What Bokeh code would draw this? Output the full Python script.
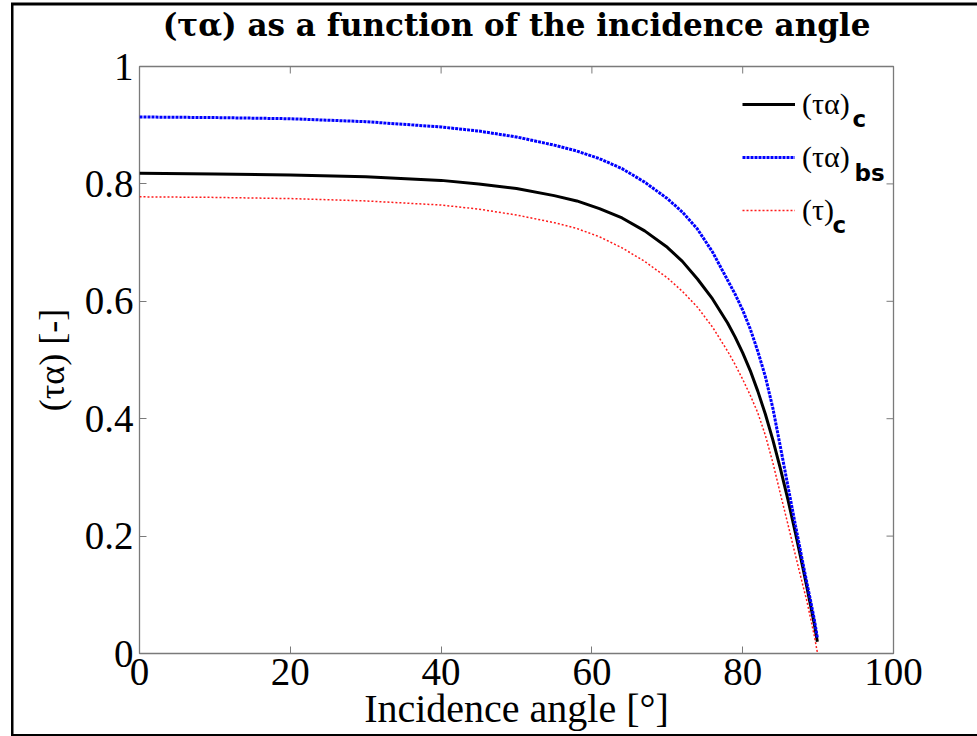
import math
from bokeh.plotting import figure
from bokeh.models import Range1d, FixedTicker, Legend, LegendItem, Label
from bokeh.embed import file_html
from bokeh.resources import INLINE

# Incidence angle [deg]
angle = [0, 10, 20, 30, 40, 45, 50, 55, 58, 61, 64, 67, 70, 72, 74, 76, 78, 79,
         80, 81, 82, 83, 84, 85, 86, 87, 88, 88.5, 89, 89.5, 89.9]
# (tau alpha) of the collector
ta_c = [0.818, 0.817, 0.815, 0.812, 0.806, 0.800, 0.792, 0.780, 0.771, 0.758,
        0.742, 0.720, 0.692, 0.668, 0.638, 0.604, 0.563, 0.539, 0.512, 0.482,
        0.447, 0.408, 0.364, 0.315, 0.262, 0.205, 0.145, 0.114, 0.082, 0.050,
        0.020]
# (tau alpha) of the black surface
ta_bs = [0.914, 0.913, 0.911, 0.906, 0.897, 0.890, 0.880, 0.866, 0.856, 0.843,
         0.826, 0.803, 0.775, 0.752, 0.723, 0.684, 0.636, 0.612, 0.585, 0.553,
         0.515, 0.472, 0.418, 0.352, 0.285, 0.218, 0.153, 0.121, 0.090, 0.058,
         0.027]
# tau of the cover
tau_c = [0.778, 0.777, 0.775, 0.771, 0.764, 0.757, 0.747, 0.734, 0.724, 0.710,
         0.691, 0.668, 0.640, 0.617, 0.590, 0.556, 0.515, 0.492, 0.467, 0.440,
         0.410, 0.372, 0.325, 0.272, 0.220, 0.167, 0.115, 0.090, 0.060, 0.030,
         0.002]

x_ticks = [0, 20, 40, 60, 80, 100]
y_ticks = [0, 0.2, 0.4, 0.6, 0.8, 1]
y_tick_labels = {0: "0", 0.2: "0.2", 0.4: "0.4", 0.6: "0.6", 0.8: "0.8", 1: "1"}

GREY = "#7a7a7a"
SERIF = "Liberation Serif"

p = figure(width=977, height=736, output_backend="svg", toolbar_location=None,
           x_range=Range1d(x_ticks[0], x_ticks[-1]),
           y_range=Range1d(y_ticks[0], y_ticks[-1]),
           min_border_left=139, min_border_right=84,
           min_border_top=66, min_border_bottom=83)
p.background_fill_color = "white"
p.border_fill_color = None
p.outline_line_color = GREY
p.outline_line_width = 1.3
p.xgrid.visible = False
p.ygrid.visible = False

# figure frame: left, top and bottom rules drawn behind the transparent border
p.styles = {
    "background-color": "white",
    "box-shadow": ("inset 11px 0 0 0 white, inset 0 2.5px 0 0 white, "
                   "inset 13.5px 0 0 0 black, inset 0 5.5px 0 0 black, "
                   "inset 0 -2px 0 0 black"),
}

p.title.text = "(τα) as a function of the incidence angle"
p.title.align = "center"
p.title.vertical_align = "top"
p.title.text_font = "DejaVu Serif"
p.title.text_font_style = "bold"
p.title.text_font_size = "31px"
p.title.text_color = "black"
p.title.standoff = 0
p.title.padding = dict(left=0, right=0, top=5, bottom=22)

for ax in (p.xaxis[0], p.yaxis[0]):
    ax.axis_line_color = None
    ax.major_tick_in = 7
    ax.major_tick_out = 0
    ax.minor_tick_line_color = None
    ax.major_tick_line_color = GREY
    ax.major_label_text_font = SERIF
    ax.major_label_text_font_size = "39px"
    ax.major_label_text_color = "black"
    ax.axis_label_text_font = SERIF
    ax.axis_label_text_font_style = "normal"
    ax.axis_label_text_color = "black"

p.xaxis.ticker = FixedTicker(ticks=x_ticks)
p.yaxis.ticker = FixedTicker(ticks=y_ticks)
p.yaxis.major_label_overrides = y_tick_labels
p.xaxis.major_label_standoff = 5
p.yaxis.major_label_standoff = 6
p.xaxis.axis_label = "Incidence angle [°]"
p.xaxis.axis_label_text_font_size = "40px"
p.xaxis.axis_label_standoff = -2
p.yaxis.axis_label = "(τα) [-]"
p.yaxis.axis_label_text_font_size = "36px"
p.yaxis.axis_label_standoff = 10

# inward tick marks on the top and right sides of the box
p.scatter(x_ticks, [y_ticks[-1]] * len(x_ticks), marker="dash", size=14,
          angle=math.pi / 2, line_color=GREY, line_width=1)
p.scatter([x_ticks[-1]] * len(y_ticks), y_ticks, marker="dash", size=14,
          angle=0, line_color=GREY, line_width=1)

r_c = p.line(angle, ta_c, line_color="black", line_width=3)
r_bs = p.line(angle, ta_bs, line_color="#0000ff", line_width=3, line_dash="3 1")
r_tc = p.line(angle, tau_c, line_color="#ff1a1a", line_width=1.5, line_dash="2 2")

legend = Legend(items=[LegendItem(label="(τα)", renderers=[r_c]),
                       LegendItem(label="(τα)", renderers=[r_bs]),
                       LegendItem(label="(τ)", renderers=[r_tc])],
                location=(603, 423), border_line_color=None,
                background_fill_alpha=0, padding=0, margin=0, spacing=13,
                glyph_width=53, glyph_height=40, label_height=40,
                label_standoff=7, label_text_font=SERIF,
                label_text_font_size="30px", label_text_color="black")
p.add_layout(legend)

# subscripts of the legend entries
for txt, sx, sy in (("c", 713, 535), ("bs", 715, 481), ("c", 693, 429)):
    p.add_layout(Label(x=sx, y=sy, x_units="screen", y_units="screen", text=txt,
                       text_font="DejaVu Sans", text_font_style="bold",
                       text_font_size="23px", text_color="black",
                       text_baseline="alphabetic"))

open("out.html", "w").write(file_html(p, INLINE))
